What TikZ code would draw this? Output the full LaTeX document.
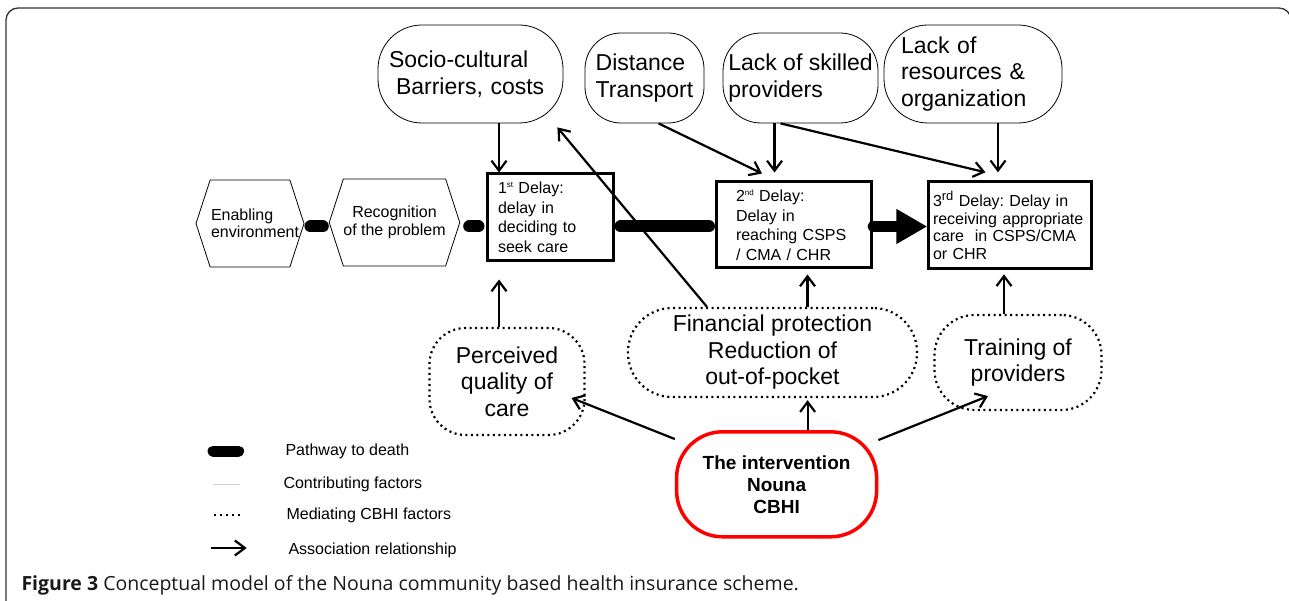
\documentclass[tikz,border=0pt]{standalone}
\usepackage{fontspec}
\setmainfont{Liberation Sans}
\newfontfamily\capfont{Open Sans}
\usetikzlibrary{arrows.meta, shapes.symbols}
\hyphenpenalty=10000
\frenchspacing

\newcommand{\smallsup}[1]{\raisebox{6pt}{\fontsize{8}{8}\selectfont #1}}
\newcommand{\bigsup}[1]{\raisebox{6pt}{\fontsize{13}{13}\selectfont #1}}

\tikzset{
  factor/.style={draw, line width=0.8pt, fill=white, rounded corners=#1,
    font=\fontsize{23}{26.5}\selectfont},
  factor/.default=40pt,
  delaybox/.style={draw, line width=3pt, fill=white, align=left,
    font=\fontsize{16}{19.5}\selectfont},
  hexa/.style={draw, line width=0.8pt, fill=white, signal, signal to=west and east,
    signal pointer angle=144, minimum width=108pt, minimum height=87pt,
    inner sep=0pt, font=\fontsize{16}{17.5}\selectfont},
  mediate/.style={draw, line width=2.2pt, dash pattern=on 2pt off 3.5pt,
    rounded corners=#1, align=center, font=\fontsize{23}{26.5}\selectfont},
  mediate/.default=38pt,
  assoc/.style={line width=2.2pt, -{Straight Barb[length=10pt,width=15pt]}},
  pathway/.style={line width=12pt, line cap=round},
  keytext/.style={anchor=west, font=\fontsize{16}{16}\selectfont},
}

\begin{document}
\begin{tikzpicture}[x=1pt, y=-1pt]
\useasboundingbox (0,0) rectangle (1289,601);
% frame
\draw[line width=1.3pt, black!80, rounded corners=12pt] (6,601) -- (6,8) -- (1291,8) -- (1291,601);

\draw
    (470.5,74)  node[factor=44pt, minimum width=185pt, minimum height=98pt, text width=163pt, align=left] (soc) {Socio-cultural\\\hspace*{7pt}Barriers, costs}
    (644.5,78)  node[factor=36pt, minimum width=119pt, minimum height=90pt, align=left] (dist) {Distance\\Transport}
    (800.5,78)  node[factor=38pt, minimum width=155pt, minimum height=90pt, align=left] (skl) {Lack of skilled\\providers}
    (973,74)    node[factor=44pt, minimum width=178pt, minimum height=98pt, text width=144pt, align=left] (res) {Lack of\\resources \&\\organization}
    (250,223.5) node[hexa, text width=78pt, align=left] (env) {Enabling\\environment}
    (394.5,222.5) node[hexa, minimum width=104pt, align=center] (rec) {Recognition\\of the problem}
    (550,217.5) node[delaybox, minimum width=126pt, minimum height=87pt, text width=104pt] (d1) {1\smallsup{st} Delay:\\delay in\\deciding to\\seek care}
    (794,225)   node[delaybox, minimum width=155pt, minimum height=86pt, text width=116pt] (d2) {2\smallsup{nd} Delay:\\Delay in\\reaching CSPS\\/ CMA / CHR}
    (1010,225.3) node[delaybox, minimum width=162.5pt, minimum height=87pt, text width=154pt, font=\fontsize{16}{17.5}\selectfont] (d3) {3\bigsup{rd} Delay: Delay in\\receiving appropriate\\care\ \ in CSPS/CMA\\or CHR}
    (507,381.5) node[mediate=36pt, minimum width=155pt, minimum height=107pt] (perc) {Perceived\\quality of\\care}
    (772.5,352.5) node[mediate=44pt, minimum width=289pt, minimum height=89pt] (fin) {Financial protection\\Reduction of\\out-of-pocket}
    (1018,362.5) node[mediate=40pt, minimum width=167pt, minimum height=95pt] (trn) {Training of\\providers}
    (776.6,484.3) node[draw=red, line width=3.5pt, rounded corners=46pt, minimum width=200pt, minimum height=105pt, align=center, font=\fontsize{19}{22}\selectfont\bfseries] (cbhi) {The intervention\\Nouna\\CBHI};

% pathway to death
\coordinate (pw) at (0,226.5);
\draw[pathway, shorten <=6pt, shorten >=6pt] (env.east |- pw) -- (rec.west |- pw);
\draw[pathway, shorten <=9pt, shorten >=7pt] (rec.east |- pw) -- (d1.west |- pw);
\draw[pathway, shorten <=6pt, shorten >=6pt] (d1.east |- pw) -- (d2.west |- pw);
\draw[line width=11pt, line cap=round, -{Triangle[length=31pt,width=33pt]}] (d2.east |- pw) -- (d3.west |- pw);

% contributing factors
\draw[assoc] ([xshift=28.5pt]soc.south) -- ([xshift=28.5pt]soc.south |- d1.north);
\draw[assoc] ([xshift=14pt]dist.south) -- ([xshift=-32pt,yshift=7pt]d2.north);
\draw[assoc, shorten >=8pt] ([xshift=-26pt]skl.south) -- ([xshift=-26pt]skl.south |- d2.north);
\draw[assoc] ([xshift=-20pt]skl.south) -- ([xshift=-24.5pt,yshift=8pt]d3.north);
\draw[assoc, shorten >=8pt] ([xshift=25pt]res.south) -- ([xshift=25pt]res.south |- d3.north);

% mediating factors
\draw[assoc, shorten >=17pt] ([xshift=-8pt]perc.north) -- ([xshift=-8pt]perc.north |- d1.south);
\draw[assoc, shorten >=5pt] ([xshift=35pt]fin.north) -- ([xshift=35pt]fin.north |- d2.south);
\draw[assoc, shorten >=4pt] ([xshift=-14pt]trn.north) -- ([xshift=-14pt]trn.north |- d3.south);
\draw[assoc] ([xshift=-65.5pt]fin.north) -- ([xshift=-6pt,yshift=-4pt]soc.south east);

% intervention
\draw[assoc] ([yshift=-9pt]cbhi.north west) -- ([xshift=-14pt,yshift=-16.5pt]perc.east);
\draw[assoc, shorten >=2pt] ([xshift=31pt]cbhi.north) -- ([xshift=31pt]cbhi.north |- fin.south);
\draw[assoc] ([yshift=-10pt]cbhi.north east) -- ([xshift=-30pt,yshift=15pt]trn.south);

% legend
\draw
    (282,451) node[keytext] (k1) {Pathway to death}
    (280,484) node[keytext] (k2) {Contributing factors}
    (283,515) node[keytext] (k3) {Mediating CBHI factors}
    (285,550) node[keytext] (k4) {Association relationship}
    (213,451) coordinate (k1a) (238.6,451) coordinate (k1b)
    (212.7,484) coordinate (k2a) (239.6,484) coordinate (k2b)
    (213.8,515) coordinate (k3a) (243,515) coordinate (k3b)
    (211.4,548) coordinate (k4a) (246.7,548) coordinate (k4b);
\draw[pathway, line width=11pt] (k1a) -- (k1b);
\draw[gray!40, line width=1pt] (k2a) -- (k2b);
\draw[line width=2.2pt, dash pattern=on 2pt off 4pt] (k3a) -- (k3b);
\draw[assoc] (k4a) -- (k4b);

% caption
\node[anchor=west, text=black!90, font=\capfont\fontsize{19.5}{19.5}\selectfont] (cap) at (18,585) {\textbf{Figure 3} Conceptual model of the Nouna community based health insurance scheme.};
\end{tikzpicture}
\end{document}
